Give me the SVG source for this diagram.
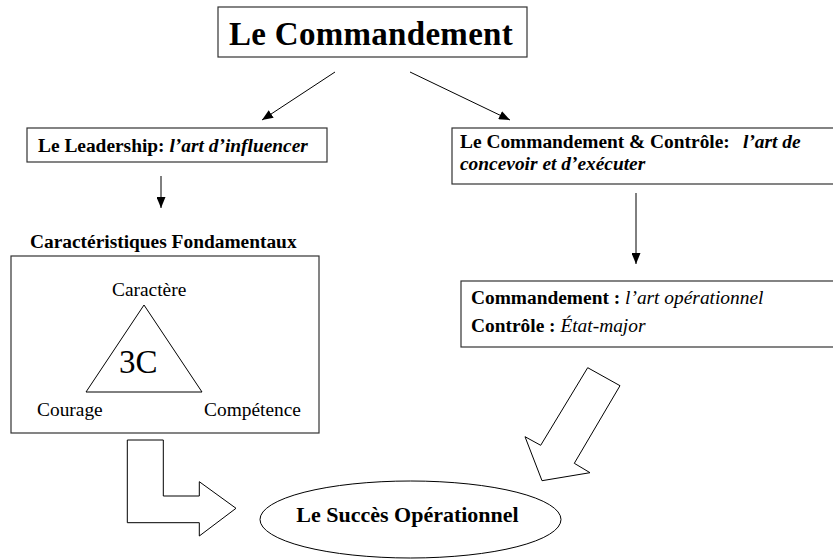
<svg xmlns="http://www.w3.org/2000/svg" width="833" height="559" viewBox="0 0 833 559">
  <style>
    text { font-family: "Liberation Serif", "Times New Roman", serif; fill: #000; }
    .box { fill: #fff; stroke: #333; stroke-width: 1.2; }
    .shape { fill: #fff; stroke: #000; stroke-width: 1; }
    .conn { stroke: #000; stroke-width: 1; fill: none; marker-end: url(#head); }
    .t19 { font-size: 19.4px; }
    .b { font-weight: bold; }
    .i { font-style: italic; }
  </style>
  <defs>
    <marker id="head" viewBox="0 0 11 9" refX="11" refY="4.5" markerWidth="11" markerHeight="9" markerUnits="userSpaceOnUse" orient="auto">
      <path d="M0,0 L11,4.5 L0,9 z" fill="#000"/>
    </marker>
  </defs>

  <rect width="833" height="559" fill="#fff"/>

  <!-- top node -->
  <g id="commandement">
    <rect class="box" x="218" y="7" width="309" height="50"/>
    <text x="229" y="45" font-size="33" font-weight="bold" letter-spacing="0.3">Le Commandement</text>
  </g>

  <!-- connectors -->
  <g id="connectors">
    <line class="conn" x1="335" y1="72" x2="262" y2="120"/>
    <line class="conn" x1="410" y1="72" x2="510" y2="120"/>
    <line class="conn" x1="161" y1="176" x2="161" y2="208"/>
    <line class="conn" x1="636" y1="193" x2="636" y2="264"/>
  </g>

  <!-- leadership -->
  <g id="leadership">
    <rect class="box" x="27" y="128" width="300" height="34"/>
    <text class="t19" x="38" y="152"><tspan class="b">Le Leadership: </tspan><tspan class="b i">l’art d’influencer</tspan></text>
  </g>

  <!-- command and control -->
  <g id="commandement-controle">
    <rect class="box" x="452" y="128" width="390" height="56"/>
    <text class="t19" x="460" y="148"><tspan class="b">Le Commandement &amp; Contrôle:</tspan><tspan class="b i" x="743">l’art de</tspan></text>
    <text class="t19 b i" x="460" y="170">concevoir et d’exécuter</text>
  </g>

  <!-- fundamental characteristics -->
  <g id="caracteristiques">
    <text class="t19 b" x="30" y="248">Caractéristiques Fondamentaux</text>
    <rect class="box" x="11" y="256" width="308" height="177"/>
    <polygon class="shape" points="144,305 86,392 202,392"/>
    <text class="t19" x="112" y="296">Caractère</text>
    <text x="119" y="373" font-size="33">3C</text>
    <text class="t19" x="37" y="416">Courage</text>
    <text class="t19" x="204" y="416">Compétence</text>
  </g>

  <!-- command / control detail -->
  <g id="commandement-detail">
    <rect class="box" x="461" y="281" width="381" height="66"/>
    <text class="t19" x="471" y="304"><tspan class="b">Commandement : </tspan><tspan class="i">l’art opérationnel</tspan></text>
    <text class="t19" x="471" y="332"><tspan class="b">Contrôle : </tspan><tspan class="i">État-major</tspan></text>
  </g>

  <!-- block arrows towards the outcome -->
  <g id="fleche-gauche">
    <polygon class="shape" points="127.3,440 163.3,440 163.3,496 199.3,496 199.3,481.7 236,508.3 199.3,536 199.3,522.7 127.3,522.7"/>
  </g>
  <g id="fleche-droite">
    <polygon class="shape" points="587.7,367.7 620,385.7 574.3,463.3 590,472.7 542,480.7 525,436.7 540.7,445.3"/>
  </g>

  <!-- outcome -->
  <g id="succes">
    <ellipse class="shape" cx="410.5" cy="519.5" rx="150.5" ry="38.5"/>
    <text x="407.5" y="522" font-size="22" font-weight="bold" text-anchor="middle">Le Succès Opérationnel</text>
  </g>
</svg>
